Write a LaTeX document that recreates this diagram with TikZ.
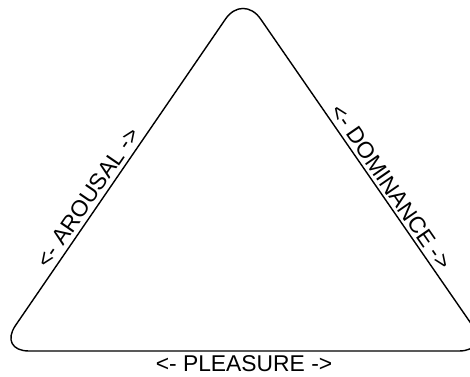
\documentclass[tikz,border=0pt]{standalone}
\usepackage{fontspec}
\setmainfont{Liberation Sans}

\begin{document}
\begin{tikzpicture}[
    x=0.02cm, y=0.02cm,
    side/.style={draw=black, line width=0.8pt, rounded corners=0.62cm},
    axislabel/.style={font=\fontsize{13}{15}\selectfont, inner sep=#1},
    axislabel/.default=2.5pt
  ]
    \useasboundingbox (0,0) rectangle (470,376);
    \clip (0,0) rectangle (470,376);

    % Corners of the triangle
    \coordinate (left) at (-2,25);
    \coordinate (right) at (490,25);
    \coordinate (top) at (243,382.5);

    % Triangle
    \draw[side] (left) -- (top) -- (right) -- cycle;

    % Axis labels
    \path (left) -- node[axislabel=2.5pt, sloped, above, pos=0.41] (arousal) {<- AROUSAL ->} (top);
    \path (top) -- node[axislabel=2pt, sloped, above, pos=0.56] (dominance) {<- DOMINANCE ->} (right);
    \path (left) -- node[axislabel=1pt, below, yshift=-1.5pt, pos=0.5] (pleasure) {<- PLEASURE ->} (right);
  \end{tikzpicture}
\end{document}
